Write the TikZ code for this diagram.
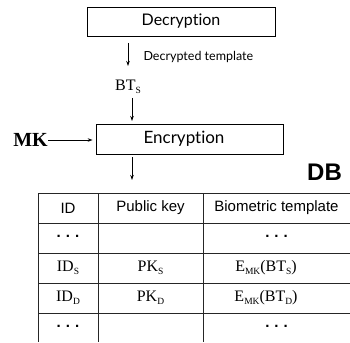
\documentclass[tikz,border=0pt]{standalone}
\usepackage{fontspec}
\setmainfont{Liberation Serif}
\newfontfamily\gillish[Ligatures=NoCommon]{Lato}
\newfontfamily\arialish{Liberation Sans}
\usetikzlibrary{arrows.meta}
\newcommand{\lowsub}[1]{\raisebox{-0.4ex}{\fontsize{9.5}{9.5}\selectfont #1}}
\tikzset{
  procbox/.style={draw, line width=0.8pt, inner sep=0pt},
  flow/.style={line width=0.8pt, -{Stealth[length=5pt,width=3.5pt]}},
  gtext/.style={font=\gillish\fontsize{16}{16}\selectfont},
  head/.style={font=\arialish\fontsize{15}{16}\selectfont},
  cell/.style={font=\fontsize{16}{16}\selectfont},
  dots/.style={font=\arialish\bfseries\fontsize{15}{16}\selectfont},
  grid/.style={line width=0.9pt, draw=black!85}
}
\begin{document}
\begin{tikzpicture}[x=1pt,y=-1pt]
\useasboundingbox (0,0) rectangle (350,342);
% Decryption box
\node[procbox, minimum width=188pt, minimum height=29pt] (dec) at (181,21.5) {};
\node[gtext] (dect) at (dec) {Decryption};
\coordinate (a1s) at (128,43);
\coordinate (a1e) at (128,66);
\draw[flow] (a1s) -- (a1e);
\node[font=\gillish\fontsize{12.5}{13}\selectfont, anchor=west] (dtl) at (140,57) {Decrypted template};
\node[font=\fontsize{16}{16}\selectfont] (bts) at (128,87) {BT\lowsub{S}};
\coordinate (a2s) at (132,98);
\coordinate (a2e) at (132,121);
\draw[flow] (a2s) -- (a2e);
% Encryption box
\node[procbox, minimum width=187pt, minimum height=30pt] (enc) at (189.5,139) {};
\node[font=\gillish\fontsize{17}{17}\selectfont] (enct) at (184,139) {Encryption};
\node[font=\bfseries\fontsize{20}{20}\selectfont, anchor=east, inner sep=0pt] (mk) at (48,140) {MK};
\draw[flow, shorten >=3pt] (mk.east) -- (enc.west |- mk.east);
\coordinate (a3s) at (132,157);
\coordinate (a3e) at (132,180);
\draw[flow] (a3s) -- (a3e);
\node[font=\arialish\bfseries\fontsize{24}{24}\selectfont] (db) at (324.5,172) {DB};
% Table
\draw[grid] (38,193) -- (350,193);
\draw[grid] (38,223) -- (350,223);
\draw[grid] (38,253) -- (350,253);
\draw[grid] (38,283) -- (350,283);
\draw[grid] (38,313) -- (350,313);
\draw[grid] (38,193) -- (38,342);
\draw[grid] (98,193) -- (98,342);
\draw[grid] (203,193) -- (203,342);
% header
\node[head] (h1) at (68,208) {ID};
\node[head] (h2) at (150.5,208) {Public key};
\node[head] (h3) at (276.5,208) {Biometric template};
% row 1
\node[dots] (r1c1) at (68,236) {.\,\,.\,\,.};
\node[dots] (r1c3) at (276.5,236) {.\,\,.\,\,.};
% row 2
\node[cell] (r2c1) at (68,268) {ID\lowsub{S}};
\node[cell] (r2c2) at (150.5,268) {PK\lowsub{S}};
\node[cell] (r2c3) at (266,268) {E\lowsub{MK}(BT\lowsub{S})};
% row 3
\node[cell] (r3c1) at (68,298) {ID\lowsub{D}};
\node[cell] (r3c2) at (150.5,298) {PK\lowsub{D}};
\node[cell] (r3c3) at (266,298) {E\lowsub{MK}(BT\lowsub{D})};
% row 4
\node[dots] (r4c1) at (68,326) {.\,\,.\,\,.};
\node[dots] (r4c3) at (276.5,326) {.\,\,.\,\,.};
\end{tikzpicture}
\end{document}
